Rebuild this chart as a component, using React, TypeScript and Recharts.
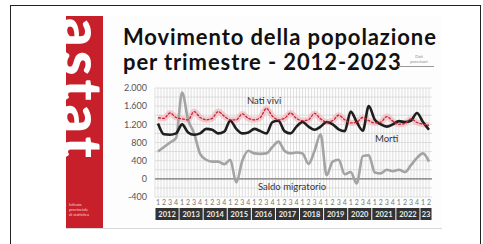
import { LineChart, Line, XAxis, YAxis, CartesianGrid, ReferenceLine } from "recharts";

// quarterly values 2012 Q1 - 2023 Q2
const years = ["2012", "2013", "2014", "2015", "2016", "2017", "2018", "2019", "2020", "2021", "2022", "2023"];
const quarters = [
  "1", "2", "3", "4", "1", "2", "3", "4", "1", "2", "3", "4", "1", "2", "3", "4",
  "1", "2", "3", "4", "1", "2", "3", "4", "1", "2", "3", "4", "1", "2", "3", "4",
  "1", "2", "3", "4", "1", "2", "3", "4", "1", "2", "3", "4", "1", "2",
];
const natiVivi = [
  1350, 1330, 1450, 1350, 1320, 1300, 1480, 1350, 1300, 1330, 1480, 1380,
  1300, 1300, 1430, 1330, 1300, 1350, 1550, 1380, 1300, 1330, 1450, 1330,
  1280, 1300, 1440, 1320, 1250, 1280, 1400, 1300, 1230, 1250, 1350, 1280,
  1230, 1250, 1370, 1270, 1200, 1220, 1320, 1240, 1200, 1180,
];
const morti = [
  1220, 980, 970, 1000, 1200, 1020, 970, 1000, 1100, 1080, 1000, 1040,
  1280, 1100, 1000, 1020, 1100, 1050, 1000, 1250, 1280, 1050, 1000, 1150,
  1250, 1150, 1080, 1150, 1250, 1200, 1090, 1050, 1480, 1250, 1060, 1600,
  1300, 1200, 1150, 1200, 1270, 1250, 1280, 1450, 1250, 1080,
];
const saldoMigratorio = [
  600, 700, 800, 900, 1900, 1300, 1000, 550, 420, 380, 380, 320,
  420, -80, 400, 620, 560, 550, 560, 700, 820, 620, 560, 580,
  560, 330, 620, 980, 80, 380, 420, 100, 150, -100, 500, 520,
  140, 120, 200, 170, 200, 150, 300, 460, 560, 380,
];
// gridlines every 200, labels every 400
const yTicks = [-400, -200, 0, 200, 400, 600, 800, 1000, 1200, 1400, 1600, 1800, 2000];

const data = quarters.map((q, i) => ({
  idx: i,
  q,
  year: years[Math.floor(i / 4)],
  nati: natiVivi[i],
  morti: morti[i],
  saldo: saldoMigratorio[i],
}));

const CHART_W = 345;
const MARGIN = { top: 10, right: 13, bottom: 0, left: 0 };
const Y_W = 55;
const PAD = 3;
const STEP = (CHART_W - MARGIN.right - Y_W - 2 * PAD) / (data.length - 1);
const PLOT_X0 = Y_W + MARGIN.left + PAD;
// grid at every category and halfway between
const gridXs = Array.from({ length: data.length * 2 }, (_, k) => PLOT_X0 - STEP / 2 + (k * STEP) / 2);

const fmt = (v: number) => (v % 400 === 0 ? v.toLocaleString("it-IT").replace(/\u00a0/g, "") : "");

function YearTick(props: any) {
  const { x, y, payload } = props;
  const i = payload.value as number;
  if (quarters[i] !== "1") return <g />;
  const yr = years[Math.floor(i / 4)];
  const n = quarters.filter((_, k) => Math.floor(k / 4) === Math.floor(i / 4)).length;
  const w = n * STEP - 1;
  return (
    <g>
      <rect x={x - STEP / 2 + 0.5} y={y + 1} width={w} height={12} fill="#333" />
      <text x={x - STEP / 2 + 0.5 + w / 2} y={y + 10} textAnchor="middle" fontSize={7.5} fontWeight={700} fill="#ededed">
        {n < 4 ? yr.slice(2) : yr}
      </text>
    </g>
  );
}

export default function App() {
  return (
    <div style={{ position: "absolute", left: 0, top: 0, width: 483, height: 244, background: "#fff", overflow: "hidden", fontFamily: "Lato, sans-serif" }}>
      <div style={{ position: "absolute", left: 10, top: 5, width: 471, height: 260, border: "1.5px solid #222", boxSizing: "border-box" }} />
      <div style={{ position: "absolute", left: 66, top: 16, width: 376, height: 212, background: "#fdfdfd", borderBottom: "1px solid #d8d8d8" }} />
      <div style={{ position: "absolute", left: 66, top: 16, width: 37, height: 212, background: "#c8202a", overflow: "hidden" }}>
        <div style={{ position: "absolute", left: -5, top: 2, writingMode: "vertical-rl", color: "#fff", fontWeight: 900, fontSize: 56, lineHeight: "44px", letterSpacing: 4 }}>
          astat
        </div>
        <div style={{ position: "absolute", left: 3, top: 186, color: "#f5d0d0", fontSize: 4, lineHeight: "5px" }}>
          Istituto
          <br />
          provinciale
          <br />
          di statistica
        </div>
      </div>
      <div style={{ position: "absolute", left: 123, top: 24, color: "#111", fontWeight: 700, fontSize: 22, lineHeight: "25px", letterSpacing: 0.9, whiteSpace: "nowrap" }}>
        Movimento della popolazione
        <br />
        per trimestre - 2012-2023
      </div>
      <div style={{ position: "absolute", left: 404, top: 55, width: 30, textAlign: "center", color: "#888", fontSize: 4, lineHeight: "4.5px" }}>
        Dati
        <br />
        provvisori
      </div>
      <div style={{ position: "absolute", left: 398, top: 66, width: 36, height: 0, borderTop: "1px solid #999" }} />
      <div style={{ position: "absolute", left: 100, top: 78 }}>
        <LineChart width={CHART_W} height={145} data={data} margin={MARGIN}>
          <CartesianGrid stroke="#d3d3d3" strokeWidth={0.7} verticalPoints={gridXs} />
          <XAxis
            dataKey="idx"
            type="category"
            interval={0}
            padding={{ left: PAD, right: PAD }}
            axisLine={false}
            tickLine={false}
            tickSize={2}
            tickMargin={1}
            height={10}
            tick={{ fontSize: 7, fill: "#777" }}
            tickFormatter={(v: number) => quarters[v]}
          />
          <XAxis
            xAxisId="yr"
            dataKey="idx"
            type="category"
            interval={0}
            padding={{ left: PAD, right: PAD }}
            axisLine={false}
            tickLine={false}
            tickSize={0}
            tickMargin={0}
            height={16}
            tick={<YearTick />}
          />
          <YAxis
            type="number"
            domain={[-400, 2000]}
            ticks={yTicks}
            interval={0}
            width={Y_W}
            axisLine={false}
            tickLine={false}
            tickSize={3}
            tickMargin={5}
            tick={{ fontSize: 9, fill: "#555" }}
            tickFormatter={fmt}
          />
          <ReferenceLine y={0} stroke="#7a7a7a" strokeWidth={1.3} />
          <Line dataKey="nati" type="monotone" stroke="#f2b8bc" strokeWidth={6} strokeOpacity={0.7} dot={false} isAnimationActive={false} />
          <Line dataKey="saldo" type="monotone" stroke="#a3a3a3" strokeWidth={2.6} dot={false} isAnimationActive={false} />
          <Line dataKey="morti" type="monotone" stroke="#1e1e1e" strokeWidth={2.6} dot={false} isAnimationActive={false} />
          <Line dataKey="nati" type="monotone" stroke="#c0283a" strokeWidth={1.3} strokeDasharray="3 1" dot={false} isAnimationActive={false} />
        </LineChart>
      </div>
      <div style={{ position: "absolute", left: 247, top: 95, fontSize: 9.5, color: "#333" }}>Nati vivi</div>
      <div style={{ position: "absolute", left: 375, top: 133, fontSize: 9.5, color: "#333" }}>Morti</div>
      <div style={{ position: "absolute", left: 258, top: 181, fontSize: 9.5, color: "#333" }}>Saldo migratorio</div>
    </div>
  );
}
